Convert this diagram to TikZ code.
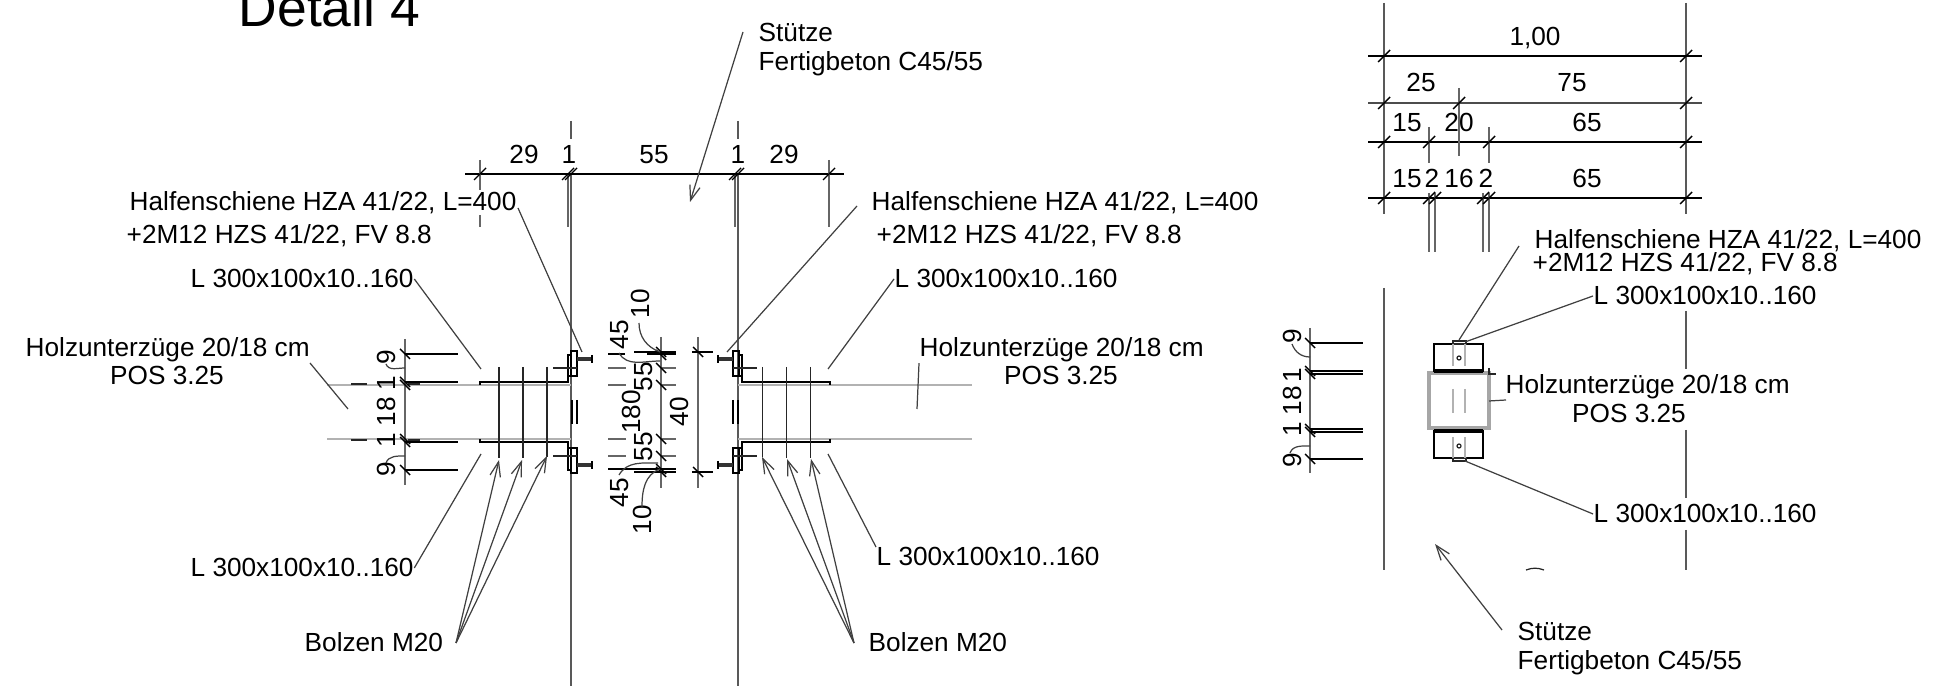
\documentclass[tikz,border=0pt]{standalone}
\usepackage{fontspec}
\setmainfont{Liberation Sans}
\usetikzlibrary{arrows.meta}

\tikzset{
lbl/.style={font=\fontsize{7.45}{9}\selectfont, inner sep=0pt, anchor=base west},
dimtxt/.style={font=\fontsize{7.45}{9}\selectfont, inner sep=0pt, anchor=base},
dimup/.style={dimtxt, rotate=90},
thinline/.style={line width=.35pt, black!85},
dimline/.style={line width=.4pt, black},
extline/.style={line width=.4pt, black!60},
column/.style={line width=.55pt, black!65},
steel/.style={line width=.55pt, black},
beamline/.style={line width=.5pt, black!30},
leader/.style={line width=.35pt, black!75},
pointer/.style={leader, -{Straight Barb[length=4.2pt,width=3pt]}}
}

\newcommand{\tickh}[2]{\draw[dimline] (#1-6,#2+6) -- (#1+6,#2-6);}
\newcommand{\tickv}[2]{\draw[dimline] (#1-5,#2-5) -- (#1+5,#2+5);}

% one side of the connection, the other side is this one mirrored
\newcommand{\jointside}{
\draw[steel] (480,385) -- (480,382) -- (568,382) -- (568,355);
\draw[steel] (480,439) -- (480,442) -- (568,442) -- (568,470);
\draw[steel] (568,355) rectangle (571,376);
\draw[steel] (571,351) rectangle (577,376);
\draw[steel] (568,448) rectangle (571,470);
\draw[steel] (571,448) rectangle (577,473);
\draw[line width=1pt, black!80] (577,359) -- (592,359);
\draw[line width=1pt, black!80] (577,465) -- (592,465);
\draw[steel] (592,355) -- (592,363);
\draw[steel] (592,461) -- (592,469);
\draw[thinline] (553,368) -- (577,368);
\draw[thinline] (553,456) -- (577,456);
\draw[steel] (572,400) -- (572,424);
\draw[steel] (577,400) -- (577,424);
\draw[thinline] (499,367) -- (499,458);
\draw[thinline] (523,367) -- (523,458);
\draw[thinline] (547,367) -- (547,457);
}

\begin{document}
\begin{tikzpicture}[x=.01cm, y=-.01cm]
\useasboundingbox (0,0) rectangle (1937,686);

\node[lbl, font=\fontsize{15.2}{18}\selectfont] (titel) at (238,27) {Detail 4};

% columns left detail
\draw[column] (571,121) -- (571,139);
\draw[column] (571,174) -- (571,686);
\draw[column] (738,121) -- (738,139);
\draw[column] (738,174) -- (738,686);
\draw[extline] (568,174) -- (568,227);
\draw[extline] (735,174) -- (735,227);
\draw[beamline] (327,385) -- (571,385);
\draw[beamline] (327,439) -- (571,439);
\draw[beamline] (738,385) -- (972,385);
\draw[beamline] (738,439) -- (972,439);

\jointside
\begin{scope}[xshift=13.09cm, xscale=-1]
\jointside
\end{scope}

% top dimension
\draw[dimline] (465,174) -- (844,174);
\draw[extline] (480,160) -- (480,190);
\draw[extline] (480,215) -- (480,227);
\draw[extline] (829,160) -- (829,227);
\tickh{480}{174}
\tickh{568}{174}
\tickh{571}{174}
\tickh{735}{174}
\tickh{738}{174}
\tickh{829}{174}
\node[dimtxt] (obenA) at (524,164) {29};
\node[dimtxt] (obenB) at (569,164) {1};
\node[dimtxt] (obenC) at (654,164) {55};
\node[dimtxt] (obenD) at (738,164) {1};
\node[dimtxt] (obenE) at (784,164) {29};

% left height dimension
\draw[extline] (405,339) -- (405,485);
\draw[dimline] (405,354) -- (458,354);
\draw[dimline] (405,382) -- (458,382);
\draw[dimline] (405,442) -- (458,442);
\draw[dimline] (405,470) -- (458,470);
\draw[thinline] (351,384) -- (367,384);
\draw[thinline] (408,384) -- (420,384);
\draw[thinline] (351,440) -- (367,440);
\draw[thinline] (408,440) -- (420,440);
\tickv{405}{354}
\tickv{405}{382}
\tickv{405}{385}
\tickv{405}{439}
\tickv{405}{442}
\tickv{405}{470}
\node[dimup] (hoeheA) at (395,357) {9};
\node[dimup] (hoeheB) at (395,383) {1};
\node[dimup] (hoeheC) at (395,412) {18};
\node[dimup] (hoeheD) at (395,440) {1};
\node[dimup] (hoeheE) at (395,469) {9};
\draw[leader] (386,364) to [out=-70, in=180] (405,368);
\draw[leader] (386,463) to [out=70, in=180] (405,456);

% middle dimensions
\draw[extline] (661,337) -- (661,488);
\draw[extline] (698,337) -- (698,488);
\draw[dimline] (634,352) -- (676,352);
\draw[dimline] (692,352) -- (713,352);
\draw[dimline] (634,472) -- (676,472);
\draw[dimline] (692,472) -- (713,472);
\draw[dimline] (608,469) -- (676,469);
\draw[dimline] (608,354) -- (625,354);
\draw[dimline] (647,354) -- (676,354);
\draw[extline] (608,368) -- (626,368);
\draw[extline] (660,368) -- (676,368);
\draw[extline] (608,385) -- (626,385);
\draw[extline] (660,385) -- (676,385);
\draw[extline] (608,439) -- (626,439);
\draw[extline] (660,439) -- (676,439);
\draw[extline] (608,456) -- (626,456);
\draw[extline] (660,456) -- (676,456);
\tickv{661}{352}
\tickv{661}{355}
\tickv{661}{368}
\tickv{661}{385}
\tickv{661}{439}
\tickv{661}{456}
\tickv{661}{469}
\tickv{661}{472}
\tickv{698}{352}
\tickv{698}{472}
\node[dimup] (mitteA) at (649,304) {10};
\node[dimup] (mitteB) at (628,335) {45};
\node[dimup] (mitteC) at (652,377) {55};
\node[dimup] (mitteD) at (640,412) {180};
\node[dimup] (mitteE) at (688,412) {40};
\node[dimup] (mitteF) at (652,447) {55};
\node[dimup] (mitteG) at (628,493) {45};
\node[dimup] (mitteH) at (651,520) {10};
\draw[leader] (639,323) to [out=-90, in=160] (660,352);
\draw[leader] (619,353) to [out=-60, in=180] (660,361);
\draw[leader] (619,475) to [out=60, in=180] (658,463);
\draw[leader] (642,507) to [out=90, in=200] (660,469);

% labels left detail
\node[lbl] (hzaLa) at (129,211) {Halfenschiene HZA 41/22, L=400};
\node[lbl] (hzaLb) at (126,244) {+2M12 HZS 41/22, FV 8.8};
\node[lbl] (winkelLo) at (190,288) {L 300x100x10..160};
\node[lbl] (holzL) at (25,357) {Holzunterzüge 20/18 cm};
\node[lbl, anchor=base] (posL) at (167,385) {POS 3.25};
\node[lbl] (winkelLu) at (190,577) {L 300x100x10..160};
\node[lbl] (bolzenL) at (304,652) {Bolzen M20};
\node[lbl] (hzaRa) at (871,211) {Halfenschiene HZA 41/22, L=400};
\node[lbl] (hzaRb) at (876,244) {+2M12 HZS 41/22, FV 8.8};
\node[lbl] (winkelRo) at (894,288) {L 300x100x10..160};
\node[lbl] (holzR) at (919,357) {Holzunterzüge 20/18 cm};
\node[lbl, anchor=base] (posR) at (1061,385) {POS 3.25};
\node[lbl] (winkelRu) at (876,566) {L 300x100x10..160};
\node[lbl] (bolzenR) at (868,652) {Bolzen M20};
\node[lbl] (stuetzeAa) at (758,42) {Stütze};
\node[lbl] (stuetzeAb) at (758,71) {Fertigbeton C45/55};

\coordinate (hzaLfree) at (518,208);
\coordinate (hzaLend) at (582,352);
\coordinate (hzaRend) at (727,352);
\coordinate (hzaRfree) at (857,206);
\coordinate (wLoend) at (481,369);
\coordinate (wLuend) at (481,454);
\coordinate (wRoend) at (828,369);
\coordinate (wRuend) at (828,454);
\coordinate (holzLfree) at (310,363);
\coordinate (holzLend) at (348,409);
\coordinate (holzRend) at (917,409);
\coordinate (bolzenLfree) at (456,643);
\coordinate (bolzenRfree) at (854,643);
\coordinate (stuetzeAfree) at (743,32);
\coordinate (stuetzeAend) at (690,202);

\draw[leader] (hzaLfree) -- (hzaLend);
\draw[leader] (hzaRfree) -- (hzaRend);
\draw[leader] (winkelLo.east) -- (wLoend);
\draw[leader] (winkelLu.east) -- (wLuend);
\draw[leader] (winkelRo.west) -- (wRoend);
\draw[leader] (winkelRu.north west) -- (wRuend);
\draw[leader] (holzLfree) -- (holzLend);
\draw[leader] (holzR.south west) -- (holzRend);
\draw[pointer] (bolzenLfree) -- (499,460);
\draw[pointer] (bolzenLfree) -- (522,460);
\draw[pointer] (bolzenLfree) -- (547,456);
\draw[pointer] (bolzenRfree) -- (762,457);
\draw[pointer] (bolzenRfree) -- (787,459);
\draw[pointer] (bolzenRfree) -- (811,459);
\draw[pointer] (stuetzeAfree) -- (stuetzeAend);

% right detail, top dimensions
\draw[column] (1384,3) -- (1384,214);
\draw[column] (1686,3) -- (1686,214);
\draw[dimline] (1368,56) -- (1702,56);
\draw[line width=.55pt, black!70] (1368,103) -- (1702,103);
\draw[dimline] (1368,142) -- (1702,142);
\draw[dimline] (1368,198) -- (1702,198);
\draw[extline] (1459,88) -- (1459,156);
\draw[extline] (1429,127) -- (1429,163);
\draw[extline] (1489,127) -- (1489,163);
\draw[extline] (1429,193) -- (1429,252);
\draw[extline] (1435,193) -- (1435,252);
\draw[extline] (1483,193) -- (1483,252);
\draw[extline] (1489,193) -- (1489,252);
\tickh{1384}{56}
\tickh{1686}{56}
\tickh{1384}{103}
\tickh{1459}{103}
\tickh{1686}{103}
\tickh{1384}{142}
\tickh{1429}{142}
\tickh{1489}{142}
\tickh{1686}{142}
\tickh{1384}{198}
\tickh{1429}{198}
\tickh{1435}{198}
\tickh{1483}{198}
\tickh{1489}{198}
\tickh{1686}{198}
\node[dimtxt] (breiteA) at (1535,46) {1,00};
\node[dimtxt] (breiteB) at (1421,92) {25};
\node[dimtxt] (breiteC) at (1572,92) {75};
\node[dimtxt] (breiteD) at (1407,132) {15};
\node[dimtxt] (breiteE) at (1459,132) {20};
\node[dimtxt] (breiteF) at (1587,132) {65};
\node[dimtxt] (breiteG) at (1407,188) {15};
\node[dimtxt] (breiteH) at (1432,188) {2};
\node[dimtxt] (breiteI) at (1459,188) {16};
\node[dimtxt] (breiteJ) at (1486,188) {2};
\node[dimtxt] (breiteK) at (1587,188) {65};

% right detail, section
\draw[column] (1384,288) -- (1384,570);
\draw[column] (1686,311) -- (1686,369);
\draw[column] (1686,430) -- (1686,498);
\draw[column] (1686,530) -- (1686,570);
\draw[thinline] (1526,570) to [out=20, in=160] (1544,570);

\draw[line width=1pt, black!35] (1429,373) rectangle (1489,428);
\draw[steel] (1434,372) -- (1434,344) -- (1483,344) -- (1483,372);
\draw[steel] (1434,430) -- (1434,458) -- (1483,458) -- (1483,430);
\draw[line width=1pt] (1434,371) -- (1483,371);
\draw[line width=1pt] (1434,431) -- (1483,431);
\draw[thinline] (1453,341) rectangle (1466,344);
\draw[thinline] (1453,458) rectangle (1466,461);
\draw[beamline] (1453,344) -- (1453,366);
\draw[beamline] (1465,344) -- (1465,366);
\draw[beamline] (1453,389) -- (1453,413);
\draw[beamline] (1465,389) -- (1465,413);
\draw[beamline] (1453,437) -- (1453,458);
\draw[beamline] (1465,437) -- (1465,458);
\draw[thinline] (1459,358) circle (2);
\draw[thinline] (1459,446) circle (2);
\draw[thinline] (1489,368) -- (1489,374) -- (1496,374);

\draw[extline] (1310,328) -- (1310,473);
\draw[dimline] (1310,343) -- (1363,343);
\draw[dimline] (1310,371) -- (1363,371);
\draw[dimline] (1310,374) -- (1363,374);
\draw[dimline] (1310,429) -- (1363,429);
\draw[dimline] (1310,432) -- (1363,432);
\draw[dimline] (1310,459) -- (1363,459);
\tickv{1310}{343}
\tickv{1310}{371}
\tickv{1310}{374}
\tickv{1310}{429}
\tickv{1310}{432}
\tickv{1310}{459}
\node[dimup] (rechtsA) at (1301,336) {9};
\node[dimup] (rechtsB) at (1301,375) {1};
\node[dimup] (rechtsC) at (1301,401) {18};
\node[dimup] (rechtsD) at (1301,429) {1};
\node[dimup] (rechtsE) at (1301,460) {9};
\draw[leader] (1292,344) to [out=-70, in=180] (1310,357);
\draw[leader] (1290,453) to [out=70, in=180] (1310,446);

\node[lbl] (hzaSa) at (1534,249) {Halfenschiene HZA 41/22, L=400};
\node[lbl] (hzaSb) at (1532,272) {+2M12 HZS 41/22, FV 8.8};
\node[lbl] (winkelSo) at (1593,305) {L 300x100x10..160};
\node[lbl] (holzS) at (1505,394) {Holzunterzüge 20/18 cm};
\node[lbl, anchor=base] (posS) at (1629,423) {POS 3.25};
\node[lbl] (winkelSu) at (1593,523) {L 300x100x10..160};
\node[lbl] (stuetzeBa) at (1517,641) {Stütze};
\node[lbl] (stuetzeBb) at (1517,670) {Fertigbeton C45/55};

\coordinate (hzaSfree) at (1519,246);
\coordinate (hzaSend) at (1459,340);
\coordinate (wSoend) at (1465,342);
\coordinate (wSuend) at (1465,461);
\coordinate (holzSfree) at (1506,400);
\coordinate (holzSend) at (1489,401);
\coordinate (stuetzeBfree) at (1502,630);
\coordinate (stuetzeBend) at (1435,544);

\draw[leader] (hzaSfree) -- (hzaSend);
\draw[leader] (winkelSo.west) -- (wSoend);
\draw[leader] (winkelSu.west) -- (wSuend);
\draw[leader] (holzSfree) -- (holzSend);
\draw[pointer] (stuetzeBfree) -- (stuetzeBend);
\end{tikzpicture}
\end{document}
